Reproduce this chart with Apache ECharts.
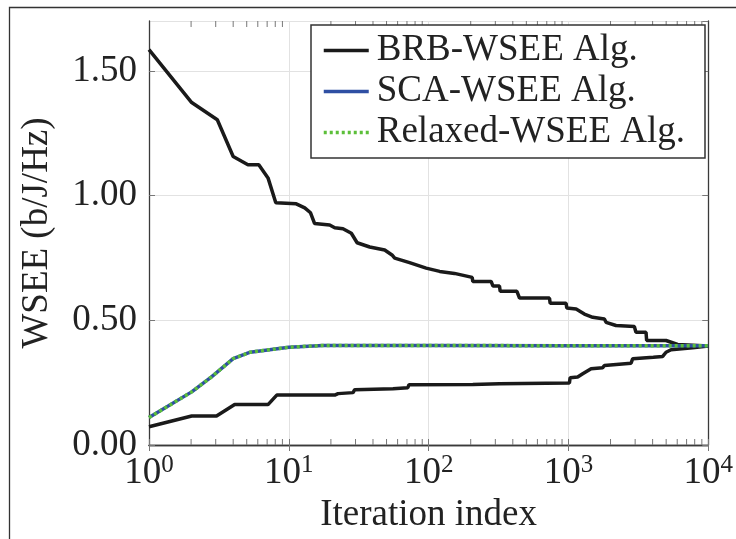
<!DOCTYPE html>
<html>
<head>
<meta charset="utf-8">
<script src="https://cdn.jsdelivr.net/npm/echarts@6/dist/echarts.min.js"></script>
<style>html,body{margin:0;padding:0;background:#fff;}#c{width:736px;height:539px;}</style>
</head>
<body>
<div id="c"></div>
<script>
// ---- data ----
const brbUpper = [[1,1.585],[2.02,1.373],[3.08,1.304],[4,1.157],[5.1,1.124],[6.1,1.124],[7.1,1.071],[8.07,0.971],[11.3,0.967],[13,0.951],[14.3,0.931],[15.3,0.888],[19.6,0.882],[21.3,0.871],[24.4,0.867],[28,0.849],[30.8,0.811],[37.9,0.794],[48.5,0.782],[54.7,0.762],[57.2,0.749],[73,0.731],[96,0.709],[120,0.696],[153,0.688],[205,0.672],[207,0.656],[280,0.656],[288,0.638],[321,0.638],[325,0.616],[428,0.616],[447,0.589],[732,0.589],[740,0.568],[962,0.568],[973,0.549],[1135,0.545],[1300,0.525],[1493,0.512],[1808,0.505],[1858,0.492],[2188,0.479],[2960,0.475],[3040,0.452],[3590,0.452],[3625,0.419],[4990,0.419],[6040,0.403],[10000,0.397]];
const brbLower = [[1,0.073],[2.02,0.116],[3.04,0.116],[4.1,0.162],[7.1,0.162],[8.2,0.2],[21.3,0.2],[22.5,0.206],[28.8,0.21],[29.6,0.222],[55.6,0.226],[71,0.23],[72.4,0.242],[207,0.243],[321,0.246],[1016,0.249],[1028,0.27],[1164,0.273],[1265,0.286],[1452,0.306],[1758,0.31],[1808,0.319],[2805,0.328],[2883,0.346],[4046,0.352],[4720,0.355],[4990,0.372],[5420,0.382],[7730,0.39],[10000,0.397]];
const scaWsee = [[1,0.11],[2.02,0.213],[2.8,0.273],[4,0.346],[5.3,0.372],[10,0.392],[17.6,0.399],[100,0.399],[1000,0.398],[10000,0.398]];
const relaxedWsee = [[1,0.11],[2.02,0.213],[2.8,0.273],[4,0.346],[5.3,0.372],[10,0.392],[17.6,0.399],[100,0.399],[1000,0.398],[10000,0.398]];
const seriesNames = ['BRB-WSEE Alg.', 'SCA-WSEE Alg.', 'Relaxed-WSEE Alg.'];
const xTicks = [1, 10, 100, 1000, 10000];
const yTicks = [0, 0.5, 1.0, 1.5];
const xMinorTicks = [2,3,4,5,6,7,8,9,20,30,40,50,60,70,80,90,200,300,400,500,600,700,800,900,2000,3000,4000,5000,6000,7000,8000,9000];
const axisTitles = { x: 'Iteration index', y: 'WSEE (b/J/Hz)' };

const FONT = 'Liberation Serif';
const AXC = '#3a3a3a';
const YMAX = 1.7;

const chart = echarts.init(document.getElementById('c'), null, { renderer: 'canvas' });

const commonX = {
  type: 'log', logBase: 10, min: xTicks[0], max: xTicks[xTicks.length - 1]
};
const commonY = { type: 'value', min: yTicks[0], max: YMAX, interval: 0.5 };

chart.setOption({
  animation: false,
  backgroundColor: '#fff',
  grid: { left: 149, right: 27, top: 21, bottom: 94, containLabel: false },
  graphic: [{
    type: 'rect', z: -10, silent: true,
    shape: { x: 9.5, y: 7.5, width: 800, height: 600 },
    style: { fill: 'none', stroke: '#333', lineWidth: 1.3 }
  }],
  legend: {
    data: seriesNames,
    orient: 'vertical', left: 311, top: 25,
    itemWidth: 45, itemHeight: 14, itemGap: 2,
    padding: [6, 20, 6, 11],
    borderColor: '#333', borderWidth: 1.5, backgroundColor: '#fff',
    itemStyle: { opacity: 0, borderWidth: 0 },
    lineStyle: { width: 3.5 },
    textStyle: { fontFamily: FONT, fontSize: 37, color: '#222', lineHeight: 39, padding: [0, 0, 0, 3] }
  },
  xAxis: [
    Object.assign({}, commonX, {
      position: 'bottom',
      name: axisTitles.x, nameLocation: 'middle', nameGap: 52,
      nameTextStyle: { fontFamily: FONT, fontSize: 37, color: '#222' },
      axisLine: { show: true, lineStyle: { color: AXC, width: 1.3 } },
      axisTick: { show: true, inside: true, length: 6, lineStyle: { color: '#777' } },
      splitLine: { show: true, lineStyle: { color: '#e2e2e2', width: 1 } },
      axisLabel: {
        margin: 8,
        formatter: function (v) { return '{b|10}{s|' + Math.round(Math.log10(v)) + '}'; },
        rich: {
          b: { fontFamily: FONT, fontSize: 37, color: '#222', lineHeight: 40 },
          s: { fontFamily: FONT, fontSize: 25, color: '#222', lineHeight: 25, verticalAlign: 'top' }
        }
      }
    }),
    Object.assign({}, commonX, {
      position: 'top',
      axisLine: { show: true, lineStyle: { color: AXC, width: 1.3 } },
      axisTick: { show: true, inside: true, length: 6, lineStyle: { color: '#777' } },
      splitLine: { show: false },
      axisLabel: { show: false }
    })
  ],
  yAxis: [
    Object.assign({}, commonY, {
      position: 'left',
      name: axisTitles.y, nameLocation: 'middle', nameGap: 93, nameRotate: 90,
      nameTextStyle: { fontFamily: FONT, fontSize: 37, color: '#222' },
      axisLine: { show: true, lineStyle: { color: AXC, width: 1.3 } },
      axisTick: { show: true, inside: true, length: 6, lineStyle: { color: '#777' } },
      splitLine: { show: true, lineStyle: { color: '#e2e2e2', width: 1 } },
      axisLabel: {
        margin: 12, showMaxLabel: false,
        fontFamily: FONT, fontSize: 37, color: '#222',
        formatter: function (v) { return v.toFixed(2); }
      }
    }),
    Object.assign({}, commonY, {
      position: 'right',
      axisLine: { show: true, lineStyle: { color: AXC, width: 1.3 } },
      axisTick: { show: true, inside: true, length: 6, lineStyle: { color: '#777' } },
      splitLine: { show: false },
      axisLabel: { show: false }
    })
  ],
  series: [
    {
      type: 'custom', name: 'minorTicks', silent: true, z: 1,
      xAxisIndex: 0, yAxisIndex: 0,
      data: xMinorTicks.map(function (v) { return [v, 0]; }),
      renderItem: function (params, api) {
        const x = api.value(0);
        const pb = api.coord([x, 0]);
        const pt = api.coord([x, YMAX]);
        const st = { stroke: '#777', lineWidth: 1 };
        return {
          type: 'group',
          children: [
            { type: 'line', shape: { x1: pb[0], y1: pb[1], x2: pb[0], y2: pb[1] - 6 }, style: st },
            { type: 'line', shape: { x1: pt[0], y1: pt[1], x2: pt[0], y2: pt[1] + 6 }, style: st }
          ]
        };
      }
    },
    {
      name: seriesNames[0], type: 'line', data: brbUpper, symbol: 'none', z: 3,
      lineStyle: { color: '#1a1a1a', width: 3.5 }, itemStyle: { color: '#1a1a1a' }
    },
    {
      name: seriesNames[0], type: 'line', data: brbLower, symbol: 'none', z: 3,
      lineStyle: { color: '#1a1a1a', width: 3.5 }, itemStyle: { color: '#1a1a1a' }
    },
    {
      name: seriesNames[1], type: 'line', data: scaWsee, symbol: 'none', z: 4,
      lineStyle: { color: '#2f4fa3', width: 3.5 }, itemStyle: { color: '#2f4fa3' }
    },
    {
      name: seriesNames[2], type: 'line', data: relaxedWsee, symbol: 'none', z: 5,
      lineStyle: { color: '#5cbf3a', width: 3.5, type: [3, 3], cap: 'butt' }, itemStyle: { color: '#5cbf3a' }
    }
  ]
});
</script>
</body>
</html>
